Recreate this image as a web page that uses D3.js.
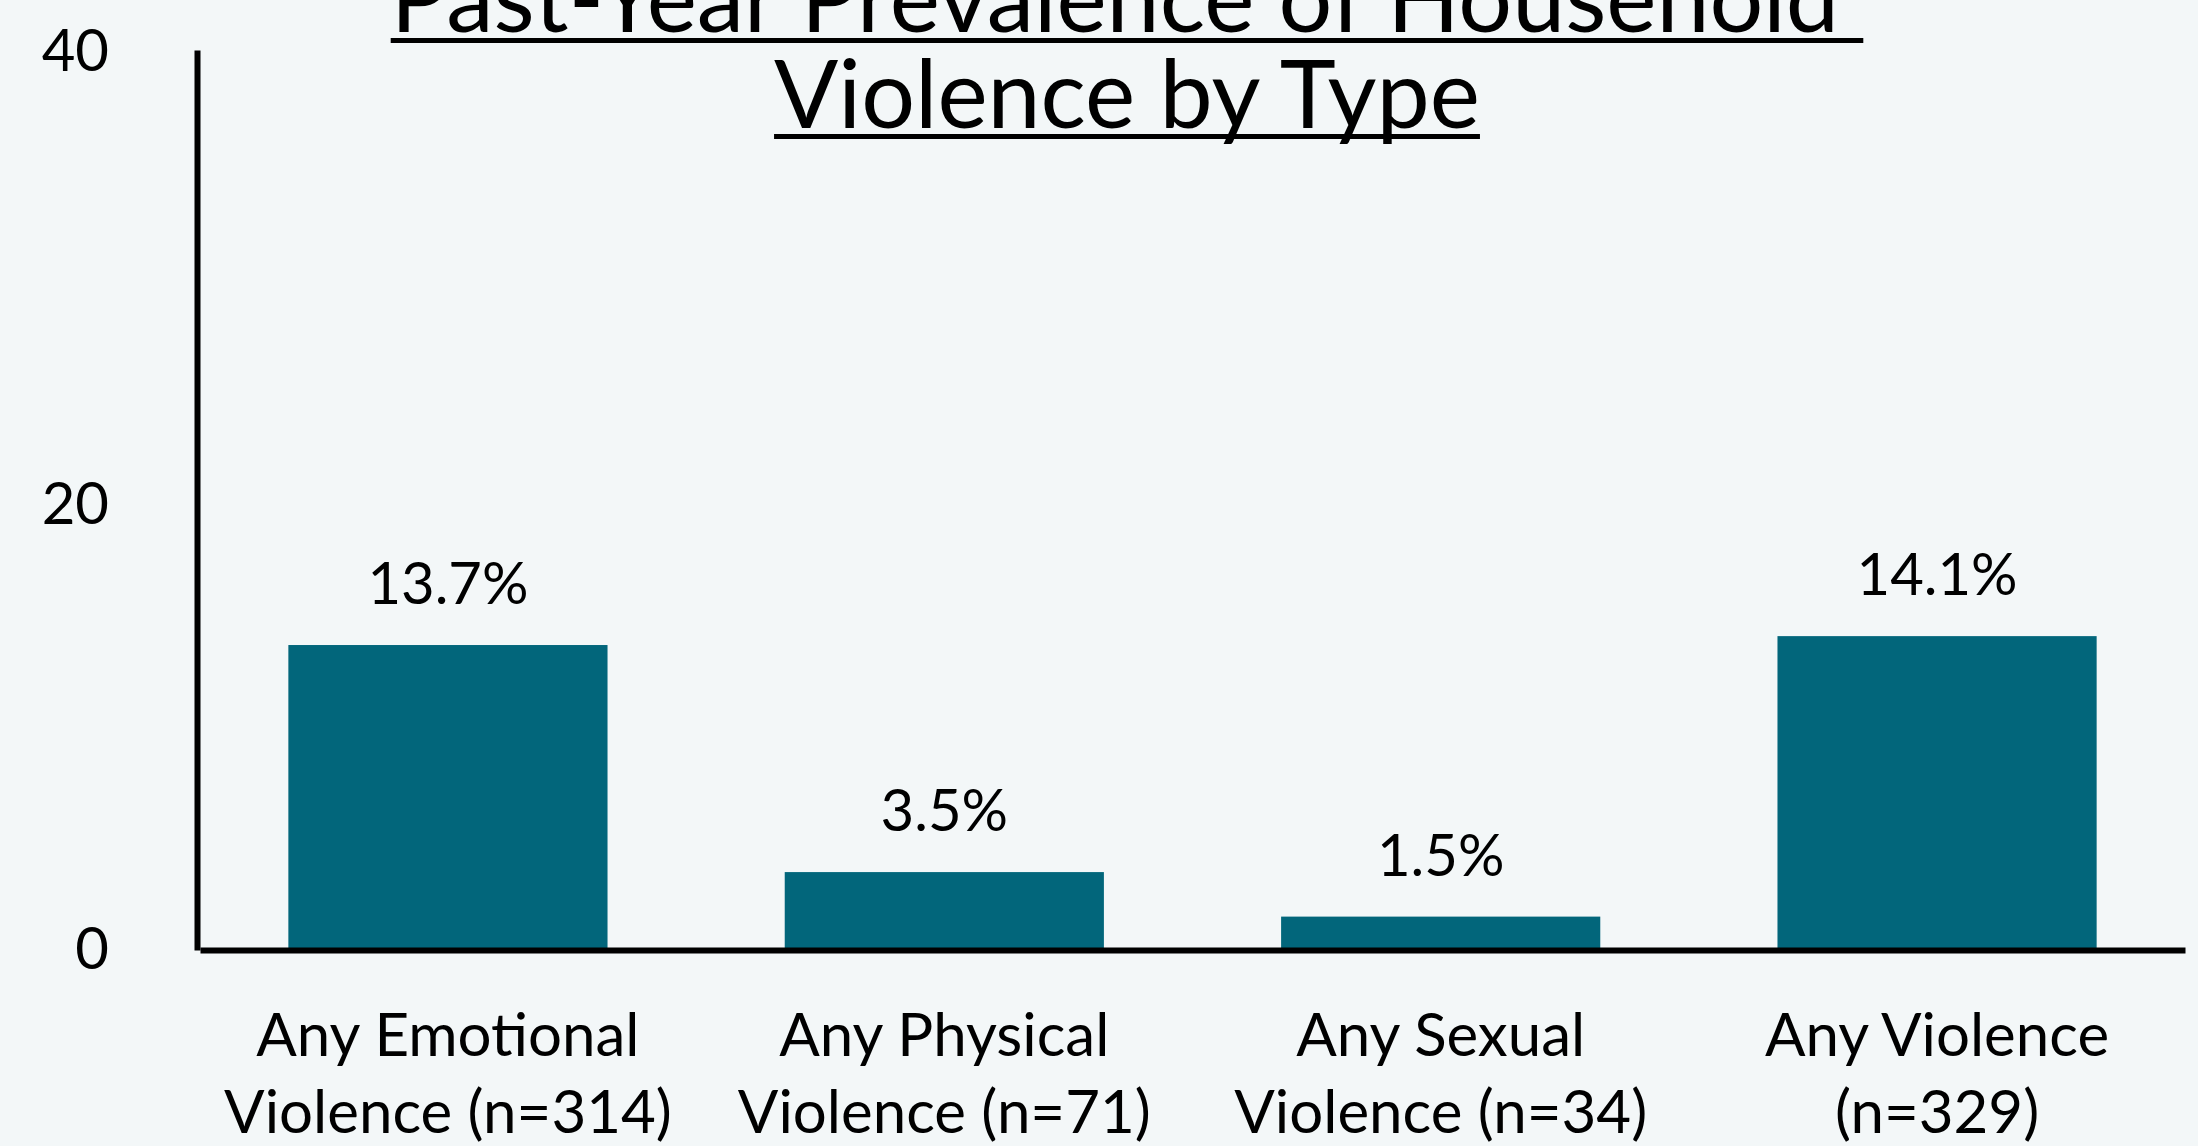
<!DOCTYPE html>
<html>
<head>
<meta charset="utf-8">
<script src="https://cdn.jsdelivr.net/npm/d3@7"></script>
<style>
  html, body { margin: 0; padding: 0; background: #f3f7f8; }
  svg { display: block; font-family: Lato, "Noto Sans", sans-serif; }
</style>
</head>
<body>
<div id="chart"></div>
<script>
// data
const categories = ["Any Emotional Violence (n=314)", "Any Physical Violence (n=71)", "Any Sexual Violence (n=34)", "Any Violence (n=329)"];
const labelLines = [["Any Emotional", "Violence (n=314)"], ["Any Physical", "Violence (n=71)"], ["Any Sexual", "Violence (n=34)"], ["Any Violence", "(n=329)"]];
const values = [13.7, 3.5, 1.5, 14.1];
const yTicks = [0, 20, 40];
const titleLines = ["Past-Year Prevalence of Household ", "Violence by Type"];

const W = 2198, H = 1146;
const barColor = "#02667b";

const svg = d3.select("#chart").append("svg")
  .attr("width", W)
  .attr("height", H);

svg.append("rect").attr("width", W).attr("height", H).attr("fill", "#f3f7f8");

const x = d3.scaleBand()
  .domain(categories)
  .range([200, 2185])
  .paddingInner(0.357)
  .paddingOuter(0.178);

const y = d3.scaleLinear()
  .domain([0, 40.43])
  .range([950, 50]);

// bars
svg.selectAll(".bar")
  .data(values)
  .enter().append("rect")
    .attr("class", "bar")
    .attr("x", (d, i) => x(categories[i]))
    .attr("width", x.bandwidth())
    .attr("y", d => y(d))
    .attr("height", d => y(0) - y(d))
    .attr("fill", barColor);

// value labels
svg.selectAll(".val")
  .data(values)
  .enter().append("text")
    .attr("class", "val")
    .attr("x", (d, i) => x(categories[i]) + x.bandwidth() / 2)
    .attr("y", d => y(d) - 41)
    .attr("text-anchor", "middle")
    .attr("font-size", 58)
    .attr("fill", "#000")
    .text(d => d.toFixed(1) + "%");

// y axis
const yAxis = svg.append("g")
  .attr("transform", "translate(197,0)")
  .call(d3.axisLeft(y).tickValues(yTicks).tickSize(0).tickPadding(88).tickFormat(d3.format("d")));
yAxis.select(".domain").attr("stroke", "#000").attr("stroke-width", 6);
yAxis.selectAll("text")
  .attr("font-size", 58)
  .attr("font-family", "Lato, 'Noto Sans', sans-serif")
  .attr("fill", "#000");
// top label sits a little higher in the original
yAxis.selectAll(".tick").filter(d => d === 40).select("text").attr("y", -8);

// x axis
const xAxis = svg.append("g")
  .attr("transform", "translate(0," + y(0) + ")")
  .call(d3.axisBottom(x).tickSize(0).tickFormat(""));
xAxis.select(".domain").attr("stroke", "#000").attr("stroke-width", 6);

// category labels, two lines each
const cat = svg.selectAll(".cat")
  .data(labelLines)
  .enter().append("text")
    .attr("class", "cat")
    .attr("text-anchor", "middle")
    .attr("font-size", 60)
    .attr("fill", "#000");
cat.each(function (lines, i) {
  const cx = x(categories[i]) + x.bandwidth() / 2;
  d3.select(this).selectAll("tspan")
    .data(lines)
    .enter().append("tspan")
      .attr("x", cx)
      .attr("y", (d, j) => 1056 + j * 77)
      .text(d => d);
});

// title with underline
titleLines.forEach((t, i) => {
  const by = 32 + i * 96;
  const txt = svg.append("text")
    .attr("x", 1127)
    .attr("y", by)
    .attr("text-anchor", "middle")
    .attr("font-size", 95)
    .attr("fill", "#000")
    .style("white-space", "pre")
    .text(t);
  const len = txt.node().getComputedTextLength();
  svg.append("line")
    .attr("x1", 1127 - len / 2)
    .attr("x2", 1127 + len / 2)
    .attr("y1", by + 8.5)
    .attr("y2", by + 8.5)
    .attr("stroke", "#000")
    .attr("stroke-width", 5);
});
</script>
</body>
</html>
